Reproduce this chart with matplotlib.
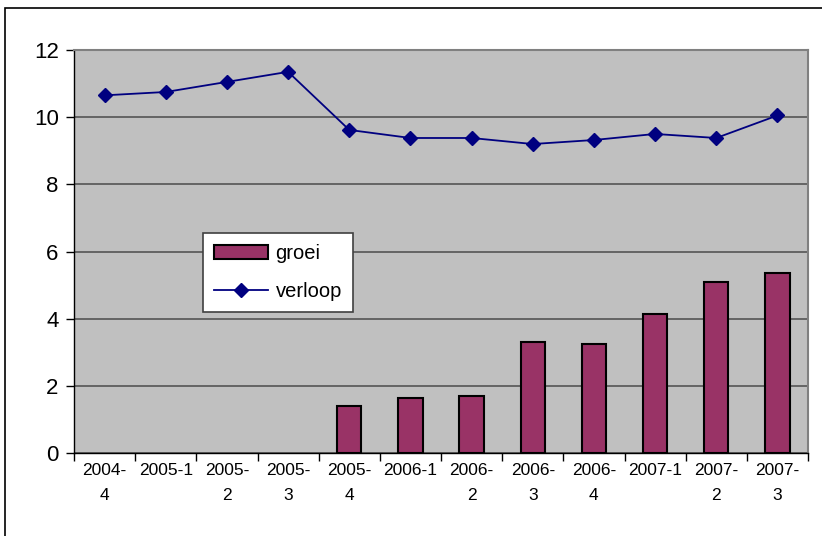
import numpy as np
import matplotlib
matplotlib.use('Agg')
import matplotlib.pyplot as plt
from matplotlib.patches import Rectangle
from matplotlib.lines import Line2D

plt.rcParams['font.family'] = ['Liberation Sans', 'DejaVu Sans']

# Quarters (labels wrap the way the spreadsheet did)
kwartalen = ['2004-\n4', '2005-1', '2005-\n2', '2005-\n3', '2005-\n4', '2006-1',
             '2006-\n2', '2006-\n3', '2006-\n4', '2007-1', '2007-\n2', '2007-\n3']
# no growth figures for the first four quarters
groei = [np.nan, np.nan, np.nan, np.nan, 1.41, 1.65, 1.71, 3.31, 3.26, 4.15, 5.10, 5.35]
verloop = [10.65, 10.75, 11.05, 11.35, 9.62, 9.38, 9.38, 9.20, 9.32, 9.50, 9.38, 10.05]

fig = plt.figure(figsize=(8.22, 5.36), dpi=100)
ax = fig.add_axes([74 / 822, 1 - 453 / 536, 734 / 822, 403 / 536])
ax.set_facecolor('#c0c0c0')

x = np.arange(len(kwartalen))
ax.bar(x, groei, width=0.4, color='#993366', edgecolor='black', linewidth=1.5, zorder=3)
ax.plot(x, verloop, color='#000080', linewidth=1.3, marker='D', markersize=7,
        markerfacecolor='#000080', markeredgecolor='#000080', zorder=4)

ax.set_xlim(-0.5, len(kwartalen) - 0.5)
ax.set_ylim(0, 12)
ax.set_yticks(range(0, 13, 2))
ax.yaxis.grid(True, color='#555555', linewidth=1.2, zorder=1)
ax.set_axisbelow(True)

# category ticks sit between the bars, labels centred under them
ax.set_xticks(np.arange(-0.5, len(kwartalen), 1.0))
ax.set_xticklabels([])
ax.set_xticks(x, minor=True)
ax.set_xticklabels(kwartalen, minor=True, fontsize=12.5, linespacing=1.85, va='top')
ax.tick_params(axis='x', which='minor', length=0, pad=7)
ax.tick_params(axis='x', which='major', length=6, width=1, color='black')
ax.tick_params(axis='y', length=6, width=1, labelsize=16, pad=5)

for side in ['top', 'right']:
    ax.spines[side].set_color('#808080')
    ax.spines[side].set_linewidth(1.5)
for side in ['left', 'bottom']:
    ax.spines[side].set_color('black')
    ax.spines[side].set_linewidth(1)

handles = [Rectangle((0, 0), 1, 1, facecolor='#993366', edgecolor='black', linewidth=1.5),
           Line2D([], [], color='#000080', linewidth=1.3, marker='D', markersize=7)]
leg = ax.legend(handles, ['groei', 'verloop'], loc='upper left',
                bbox_to_anchor=((203 - 74) / 734, (453 - 233) / 403),
                fontsize=14.5, frameon=True, fancybox=False, borderpad=0.55,
                handlelength=2.7, handletextpad=0.35, labelspacing=0.95,
                borderaxespad=0)
leg.get_frame().set_edgecolor('#404040')
leg.get_frame().set_linewidth(1.2)
leg.get_frame().set_facecolor('white')
leg.get_frame().set_alpha(1)

# outer chart frame
fig.patches.append(Rectangle((5 / 822, -0.1), 1.2, 1 - 8 / 536 + 0.1, transform=fig.transFigure,
                             fill=False, edgecolor='black', linewidth=1.2))

fig.savefig('out.png', dpi=100)
